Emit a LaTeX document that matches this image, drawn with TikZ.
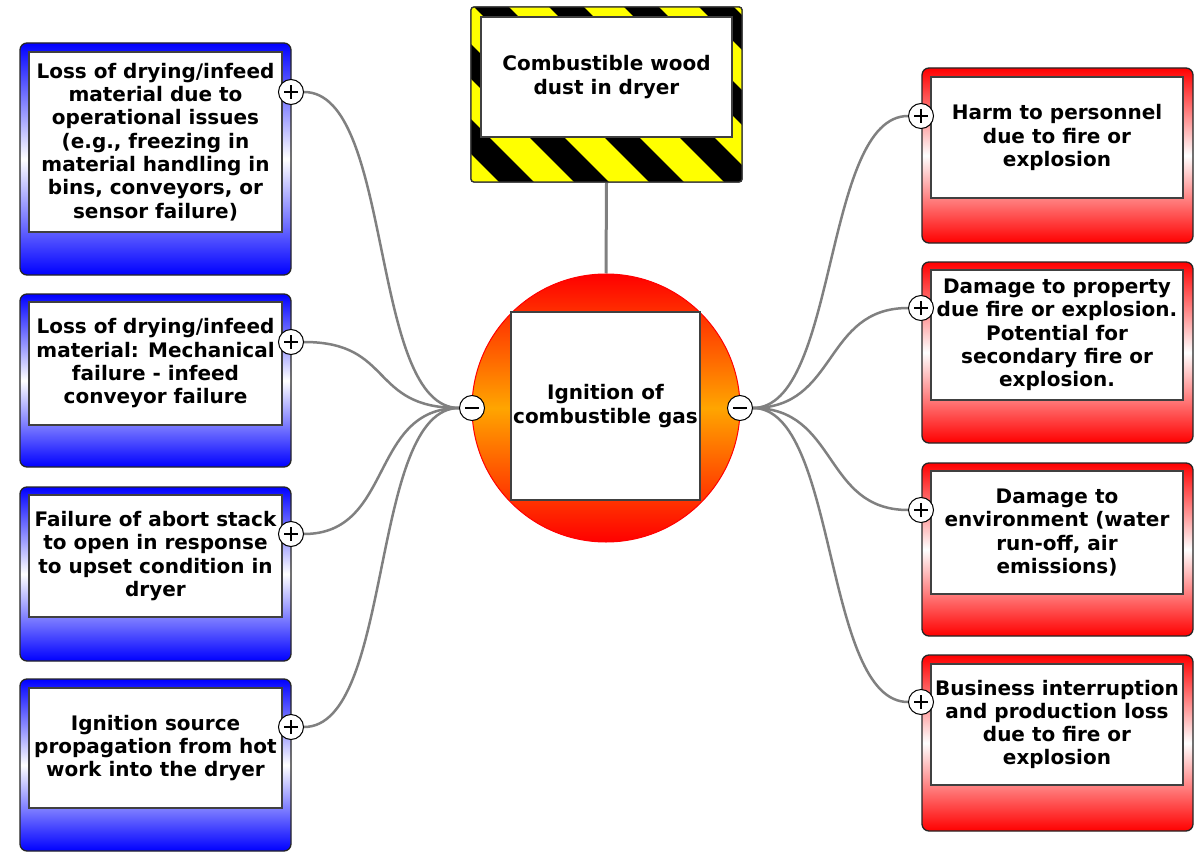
\documentclass[tikz,border=0pt]{standalone}
\usepackage{fontspec}
\setmainfont{DejaVu Sans}
\usetikzlibrary{backgrounds}
\definecolor{blueC}{RGB}{0,0,255}
\definecolor{redC}{RGB}{255,0,0}
\definecolor{orangeC}{RGB}{255,165,0}
\definecolor{yellowC}{RGB}{255,255,0}
\definecolor{connC}{RGB}{128,128,128}
\tikzset{
  outerL/.style={draw=black!85, line width=1.3pt, rounded corners=7pt, top color=blueC, bottom color=blueC, middle color=white, inner sep=0pt},
  outerR/.style={draw=black!85, line width=1.3pt, rounded corners=7pt, top color=redC, bottom color=redC, middle color=white, inner sep=0pt},
  innerbox/.style={draw=black!75, line width=1.3pt, fill=white, inner sep=0pt},
  txt/.style={font=\bfseries\fontsize{20}{23.3}\selectfont, align=center, text=black, inner sep=0pt},
  conn/.style={draw=connC, line width=2.5pt},
  pm/.style={circle, draw=black, fill=white, minimum size=25pt, inner sep=0pt, line width=1pt},
  plusnode/.style={pm, path picture={\draw[line width=1.2pt]
     ([xshift=-7pt]path picture bounding box.center) -- ([xshift=7pt]path picture bounding box.center)
     ([yshift=-7pt]path picture bounding box.center) -- ([yshift=7pt]path picture bounding box.center);}},
  minusnode/.style={pm, path picture={\draw[line width=1.2pt]
     ([xshift=-7pt]path picture bounding box.center) -- ([xshift=7pt]path picture bounding box.center);}},
}
\begin{document}
\begin{tikzpicture}[x=1pt,y=-1pt]
\useasboundingbox (0,0) rectangle (1199,853);

% ---------- hazard box ----------
\node[draw=black!80, line width=1.3pt, rounded corners=3pt, minimum width=271pt, minimum height=175pt, inner sep=0pt] (H) at (606.5,94.5) {};
\begin{scope}
  \clip[rounded corners=3pt] (471,7) rectangle (742,182);
  \fill[black] (471,7) rectangle (742,182);
  \foreach \c in {202,277,...,802} \draw[yellowC, line width=28pt] (\c,-20) -- ({\c+220},200);
\end{scope}
\draw[black!80, line width=1.3pt, rounded corners=3pt] (471,7) rectangle (742,182);
\node[innerbox, minimum width=251pt, minimum height=120pt] (Hi) at (606.5,77) {};
\node[txt] (Ht) at (Hi) {Combustible wood\\dust in dryer};

% ---------- centre ----------
\node[circle, draw=redC, line width=1pt, minimum size=268pt, inner sep=0pt, top color=redC, bottom color=redC, middle color=orangeC] (C) at (606,408) {};
\node[innerbox, minimum width=189pt, minimum height=188pt] (Ci) at (605.5,406) {};
\node[txt] (Ct) at (Ci) {Ignition of\\combustible gas};

% ---------- left boxes ----------
\node[outerL, minimum width=271pt, minimum height=232pt] (L1o) at (155.5,159) {};
\node[innerbox, minimum width=253pt, minimum height=180pt] (L1) at (155.5,142) {};
\node[txt] (L1t) at (L1) {Loss of drying/infeed\\material due to\\operational issues\\(e.g., freezing in\\material handling in\\bins, conveyors, or\\sensor failure)};

\node[outerL, minimum width=271pt, minimum height=173pt] (L2o) at (155.5,380.5) {};
\node[innerbox, minimum width=253pt, minimum height=123pt] (L2) at (155.5,363.5) {};
\node[txt] (L2t) at (L2) {Loss of drying/infeed\\material: Mechanical\\failure - infeed\\conveyor failure};

\node[outerL, minimum width=271pt, minimum height=174pt] (L3o) at (155.5,574) {};
\node[innerbox, minimum width=253pt, minimum height=122pt] (L3) at (155.5,556) {};
\node[txt] (L3t) at (L3) {Failure of abort stack\\to open in response\\to upset condition in\\dryer};

\node[outerL, minimum width=271pt, minimum height=172pt] (L4o) at (155.5,765) {};
\node[innerbox, minimum width=253pt, minimum height=120pt] (L4) at (155.5,748) {};
\node[txt] (L4t) at (L4) {Ignition source\\propagation from hot\\work into the dryer};

% ---------- right boxes ----------
\node[outerR, minimum width=271pt, minimum height=175pt] (R1o) at (1057.5,155.5) {};
\node[innerbox, minimum width=252pt, minimum height=121pt] (R1) at (1057,137.5) {};
\node[txt] (R1t) at (R1) {Harm to personnel\\due to fire or\\explosion};

\node[outerR, minimum width=271pt, minimum height=181pt] (R2o) at (1057.5,352.5) {};
\node[innerbox, minimum width=252pt, minimum height=130pt] (R2) at (1057,335) {};
\node[txt] (R2t) at (R2) {Damage to property\\due fire or explosion.\\Potential for\\secondary fire or\\explosion.};

\node[outerR, minimum width=271pt, minimum height=173pt] (R3o) at (1057.5,549.5) {};
\node[innerbox, minimum width=252pt, minimum height=123pt] (R3) at (1057,532.5) {};
\node[txt] (R3t) at (R3) {Damage to\\environment (water\\run-off, air\\emissions)};

\node[outerR, minimum width=271pt, minimum height=176pt] (R4o) at (1057.5,743) {};
\node[innerbox, minimum width=252pt, minimum height=121pt] (R4) at (1057,724.5) {};
\node[txt] (R4t) at (R4) {Business interruption\\and production loss\\due to fire or\\explosion};

% ---------- plus / minus ----------
\node[minusnode] (mL) at (472,408) {};
\node[minusnode] (mR) at (740,408) {};
\node[plusnode] (pL1) at (291,92) {};
\node[plusnode] (pL2) at (291,342) {};
\node[plusnode] (pL3) at (291,534) {};
\node[plusnode] (pL4) at (291,727) {};
\node[plusnode] (pR1) at (921,116) {};
\node[plusnode] (pR2) at (921,308) {};
\node[plusnode] (pR3) at (921,510) {};
\node[plusnode] (pR4) at (921,702) {};

% ---------- connectors ----------
\begin{pgfonlayer}{background}
\fill[white] (0,0) rectangle (1199,853);
\draw[connC, line width=3pt] (H.south) -- (C.north);
\foreach \p in {pL1,pL2,pL3,pL4}
  \draw[conn] (\p.east) .. controls +(90,0) and +(-90,0) .. (mL.west);
\foreach \p in {pR1,pR2,pR3,pR4}
  \draw[conn] (mR.east) .. controls +(85,0) and +(-85,0) .. (\p.west);
\end{pgfonlayer}
\end{tikzpicture}
\end{document}
